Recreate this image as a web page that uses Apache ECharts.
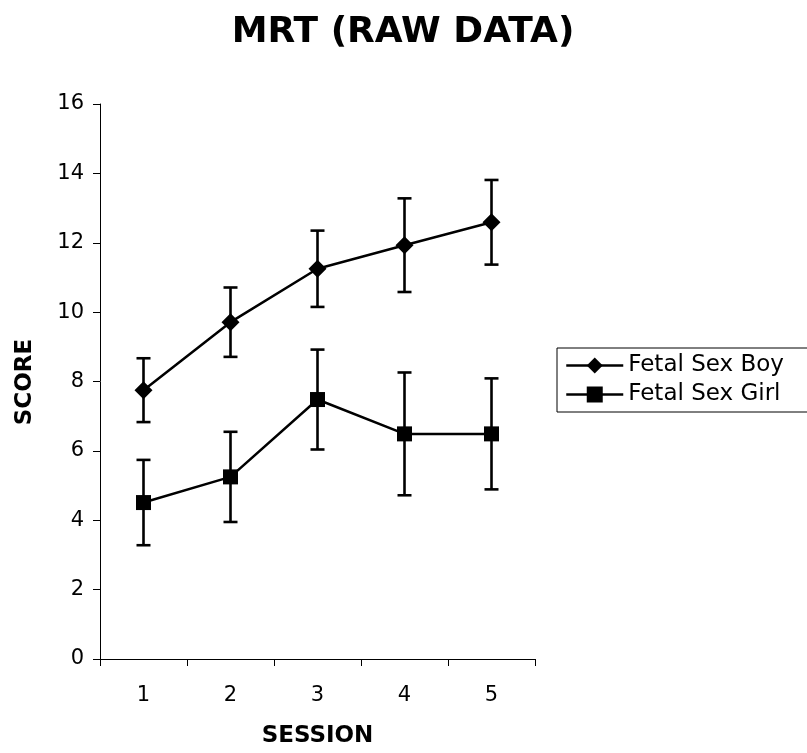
<!DOCTYPE html>
<html>
<head>
<meta charset="utf-8">
<script src="https://cdn.jsdelivr.net/npm/echarts@6/dist/echarts.min.js"></script>
<style>
html,body{margin:0;padding:0;background:#fff;}
#chart{width:807px;height:753px;}
</style>
</head>
<body>
<div id="chart"></div>
<script>
// Sessions and mean scores with +/- error for each group
const sessions = ['1', '2', '3', '4', '5'];
const boyMean = [7.75, 9.71, 11.25, 11.93, 12.59];
const boyErr = [0.92, 1.0, 1.1, 1.35, 1.22];
const girlMean = [4.51, 5.25, 7.48, 6.49, 6.49];
const girlErr = [1.23, 1.3, 1.44, 1.77, 1.6];

const FONT = 'DejaVu Sans, Verdana, sans-serif';

function errData(mean, err) {
  return mean.map((m, i) => [i, m - err[i], m + err[i]]);
}

// Vertical whisker with a short cap at each end
function errorBars(api) {
  const x = api.value(0);
  const lo = api.coord([x, api.value(1)]);
  const hi = api.coord([x, api.value(2)]);
  const half = 7;
  const style = { stroke: '#000', lineWidth: 2.6 };
  return {
    type: 'group',
    children: [
      { type: 'line', shape: { x1: hi[0], y1: hi[1], x2: lo[0], y2: lo[1] }, style },
      { type: 'line', shape: { x1: hi[0] - half, y1: hi[1], x2: hi[0] + half, y2: hi[1] }, style },
      { type: 'line', shape: { x1: lo[0] - half, y1: lo[1], x2: lo[0] + half, y2: lo[1] }, style }
    ]
  };
}

const chart = echarts.init(document.getElementById('chart'));
chart.setOption({
  animation: false,
  backgroundColor: '#fff',
  grid: { left: 100, right: 272, top: 104, bottom: 93, containLabel: false },
  legend: {
    left: 557,
    top: 348,
    orient: 'vertical',
    itemGap: 6,
    itemWidth: 57,
    itemHeight: 20,
    padding: [6, 24, 6, 8],
    borderColor: '#000',
    borderWidth: 1,
    lineStyle: { width: 2.5 },
    textStyle: { fontFamily: FONT, fontSize: 23, color: '#000' },
    data: ['Fetal Sex Boy', 'Fetal Sex Girl']
  },
  xAxis: {
    type: 'category',
    data: sessions,
    boundaryGap: true,
    name: 'SESSION',
    nameLocation: 'middle',
    nameGap: 66,
    nameTextStyle: { fontFamily: FONT, fontSize: 23, fontWeight: 'bold', color: '#000' },
    axisLine: { lineStyle: { color: '#000', width: 1 } },
    axisTick: { show: true, length: 7, interval: 0, lineStyle: { color: '#000' } },
    axisLabel: { fontFamily: FONT, fontSize: 21, color: '#000', margin: 26 },
    splitLine: { show: false }
  },
  yAxis: {
    type: 'value',
    min: 0,
    max: 16,
    interval: 2,
    axisLine: { show: true, lineStyle: { color: '#000', width: 1 } },
    axisTick: { show: true, length: 7, lineStyle: { color: '#000' } },
    axisLabel: { fontFamily: FONT, fontSize: 21, color: '#000', margin: 16 },
    splitLine: { show: false }
  },
  graphic: [
    {
      type: 'text',
      x: 403,
      y: 33,
      style: {
        text: 'MRT (RAW DATA)',
        font: 'bold 36px ' + FONT,
        fill: '#000',
        align: 'center',
        verticalAlign: 'middle'
      }
    },
    {
      type: 'text',
      x: 25,
      y: 382,
      rotation: Math.PI / 2,
      style: {
        text: 'SCORE',
        font: 'bold 23px ' + FONT,
        fill: '#000',
        align: 'center',
        verticalAlign: 'middle'
      }
    }
  ],
  series: [
    {
      type: 'custom',
      name: 'boyErr',
      renderItem: (p, api) => errorBars(api),
      data: errData(boyMean, boyErr),
      z: 3,
      silent: true
    },
    {
      type: 'custom',
      name: 'girlErr',
      renderItem: (p, api) => errorBars(api),
      data: errData(girlMean, girlErr),
      z: 3,
      silent: true
    },
    {
      type: 'line',
      name: 'Fetal Sex Boy',
      data: boyMean,
      symbol: 'diamond',
      symbolSize: 18,
      lineStyle: { color: '#000', width: 2.5 },
      itemStyle: { color: '#000' },
      z: 4
    },
    {
      type: 'line',
      name: 'Fetal Sex Girl',
      data: girlMean,
      symbol: 'rect',
      symbolSize: 15,
      lineStyle: { color: '#000', width: 2.5 },
      itemStyle: { color: '#000' },
      z: 4
    }
  ]
});
</script>
</body>
</html>
